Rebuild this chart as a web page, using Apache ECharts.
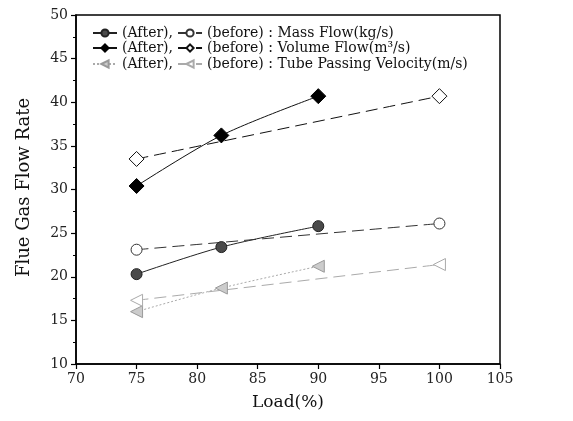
<!DOCTYPE html>
<html>
<head>
<meta charset="utf-8">
<script src="https://cdn.jsdelivr.net/npm/echarts@6/dist/echarts.min.js"></script>
<style>
  html, body { margin: 0; padding: 0; background: #fff; }
  #main { width: 573px; height: 421px; }
</style>
</head>
<body>
<div id="main"></div>
<script>
// load (%) for each measurement
const loadAfter = [75, 82, 90]
const loadBefore = [75, 100]

// flue gas flow rate values
const massAfter = [20.3, 23.4, 25.8]
const massBefore = [23.1, 26.1]
const volumeAfter = [30.4, 36.2, 40.7]
const volumeBefore = [33.5, 40.7]
const velocityAfter = [16.0, 18.7, 21.2]
const velocityBefore = [17.3, 21.4]

// legend text
const legendText = {
  'mass-after': '(After),',
  'mass-before': '(before) : Mass Flow(kg/s)',
  'volume-after': '(After),',
  'volume-before': '(before) : Volume Flow(m³/s)',
  'velocity-after': '(After),',
  'velocity-before': '(before) : Tube Passing Velocity(m/s)'
}

const pair = (xs, ys) => xs.map((x, i) => [x, ys[i]])

const FONT = 'DejaVu Serif'
const triLeft = 'path://M0,5 L10,0 L10,10 Z'

const chart = echarts.init(document.getElementById('main'))

const legendRow = (top, names) => ({
  left: 87,
  top: top,
  orient: 'horizontal',
  itemWidth: 24,
  itemHeight: 9,
  itemGap: 4,
  data: names,
  formatter: name => legendText[name],
  textStyle: { fontFamily: FONT, fontSize: 14, color: '#111' },
  selectedMode: false
})

const option = {
  animation: false,
  backgroundColor: '#fff',
  grid: { left: 76, right: 73, top: 15, bottom: 57, show: true, borderColor: '#000', borderWidth: 1.5 },
  legend: [
    legendRow(21, ['mass-after', 'mass-before']),
    legendRow(36, ['volume-after', 'volume-before']),
    legendRow(52, ['velocity-after', 'velocity-before'])
  ],
  xAxis: {
    type: 'value',
    min: 70, max: 105, interval: 5,
    name: 'Load(%)',
    nameLocation: 'middle',
    nameGap: 30,
    nameTextStyle: { fontFamily: FONT, fontSize: 17, color: '#111' },
    axisLine: { lineStyle: { color: '#000', width: 1.5 } },
    axisTick: { length: 5, lineStyle: { color: '#000', width: 1.2 } },
    axisLabel: { fontFamily: FONT, fontSize: 14, color: '#222', margin: 8 },
    splitLine: { show: false }
  },
  yAxis: {
    type: 'value',
    min: 10, max: 50, interval: 5,
    name: 'Flue Gas Flow Rate',
    nameLocation: 'middle',
    nameGap: 43,
    nameTextStyle: { fontFamily: FONT, fontSize: 18, color: '#111', padding: [0, 0, 0, 4] },
    axisLine: { lineStyle: { color: '#000', width: 1.5 } },
    axisTick: { length: 5, lineStyle: { color: '#000', width: 1.2 } },
    minorTick: { show: true, splitNumber: 2, length: 3, lineStyle: { color: '#000' } },
    axisLabel: { fontFamily: FONT, fontSize: 14, color: '#222', margin: 8 },
    splitLine: { show: false }
  },
  series: [
    {
      name: 'mass-after', type: 'line', smooth: 0.3,
      data: pair(loadAfter, massAfter),
      symbol: 'circle', symbolSize: 11,
      lineStyle: { color: '#222', width: 1 },
      itemStyle: { color: '#4a4a4a', borderColor: '#222', borderWidth: 1 }
    },
    {
      name: 'mass-before', type: 'line', smooth: 0.3,
      data: pair(loadBefore, massBefore),
      symbol: 'circle', symbolSize: 11,
      lineStyle: { color: '#333', width: 1, type: [12, 6] },
      itemStyle: { color: '#fff', borderColor: '#333', borderWidth: 1 }
    },
    {
      name: 'volume-after', type: 'line', smooth: 0.3,
      data: pair(loadAfter, volumeAfter),
      symbol: 'diamond', symbolSize: 15,
      lineStyle: { color: '#111', width: 1 },
      itemStyle: { color: '#000', borderColor: '#000', borderWidth: 1 }
    },
    {
      name: 'volume-before', type: 'line', smooth: 0.3,
      data: pair(loadBefore, volumeBefore),
      symbol: 'diamond', symbolSize: 15,
      lineStyle: { color: '#111', width: 1, type: [12, 6] },
      itemStyle: { color: '#fff', borderColor: '#111', borderWidth: 1 }
    },
    {
      name: 'velocity-after', type: 'line', smooth: 0.3,
      data: pair(loadAfter, velocityAfter),
      symbol: triLeft, symbolSize: 12,
      lineStyle: { color: '#aaa', width: 1, type: [2, 2] },
      itemStyle: { color: '#ccc', borderColor: '#999', borderWidth: 1 }
    },
    {
      name: 'velocity-before', type: 'line', smooth: 0.3,
      data: pair(loadBefore, velocityBefore),
      symbol: triLeft, symbolSize: 12,
      lineStyle: { color: '#aaa', width: 1, type: [12, 6] },
      itemStyle: { color: '#fff', borderColor: '#aaa', borderWidth: 1 }
    }
  ]
}

chart.setOption(option)
</script>
</body>
</html>
